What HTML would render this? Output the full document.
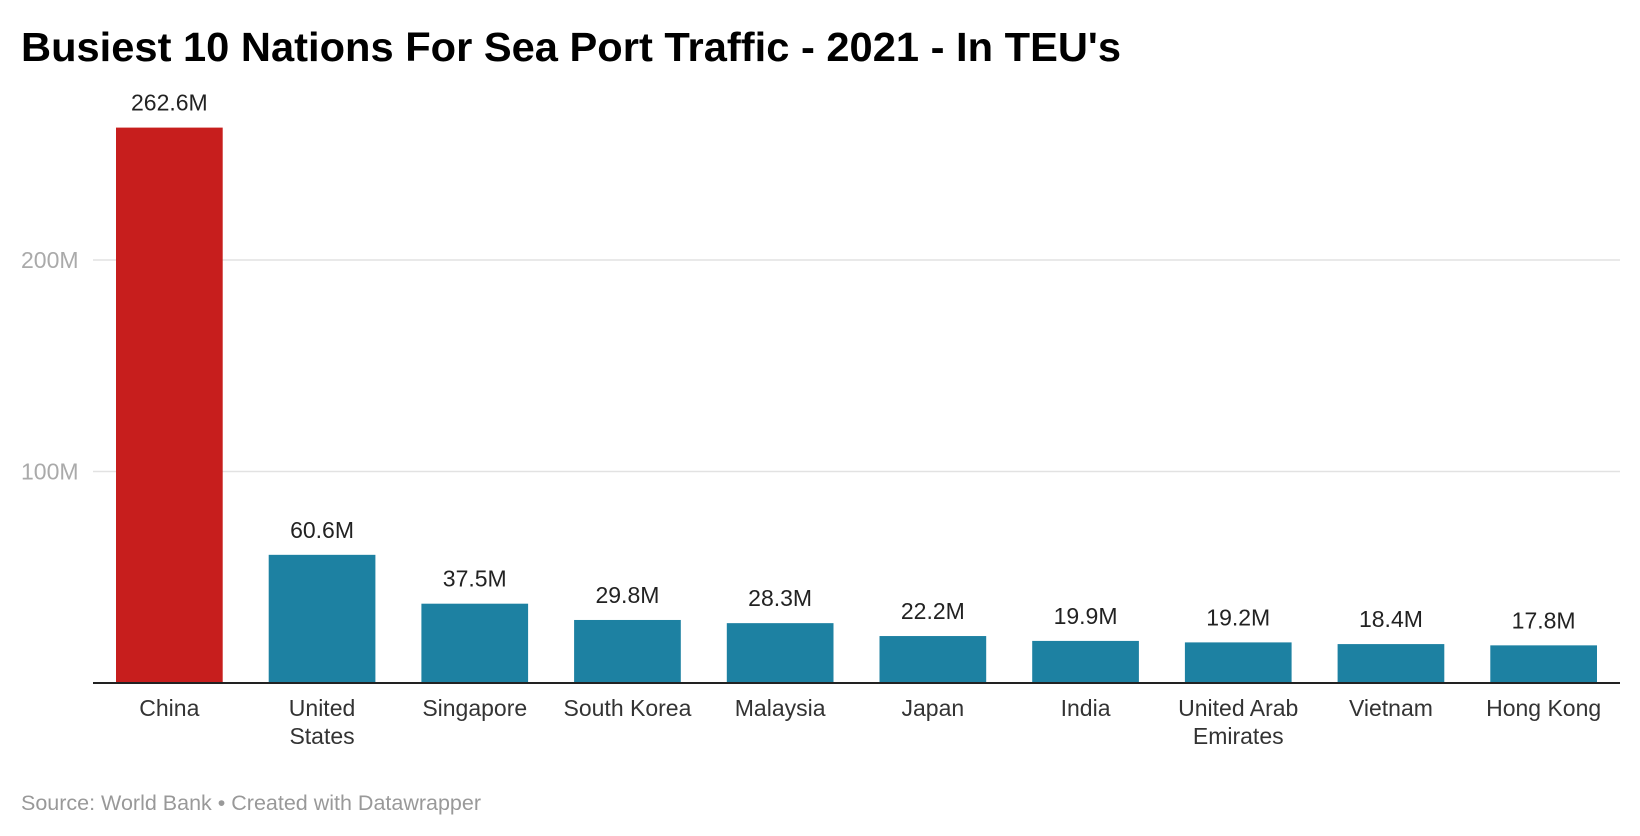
<!DOCTYPE html>
<html><head><meta charset="utf-8"><style>
html,body{margin:0;padding:0;background:#fff;width:1640px;height:836px;overflow:hidden}
svg{display:block;font-family:"Liberation Sans",sans-serif}
</style></head><body>
<svg id="chart" width="1640" height="836">
<text x="21" y="61" font-size="41" font-weight="bold" fill="#000" textLength="1100" lengthAdjust="spacingAndGlyphs">Busiest 10 Nations For Sea Port Traffic - 2021 - In TEU's</text>
<g id="grid"></g><g id="bars"></g>
<line x1="93" x2="1620" y1="683" y2="683" stroke="#222" stroke-width="2"/>
<text x="21" y="810" font-size="21" fill="#999" textLength="460" lengthAdjust="spacingAndGlyphs">Source: World Bank • Created with Datawrapper</text>
</svg>
<script>
const categories=[["China"],["United","States"],["Singapore"],["South Korea"],["Malaysia"],["Japan"],["India"],["United Arab","Emirates"],["Vietnam"],["Hong Kong"]];
const values=[262.6,60.6,37.5,29.8,28.3,22.2,19.9,19.2,18.4,17.8];
const valueLabels=["262.6M","60.6M","37.5M","29.8M","28.3M","22.2M","19.9M","19.2M","18.4M","17.8M"];
const ticks=[100,200];
const tickLabels=["100M","200M"];
const NS="http://www.w3.org/2000/svg";
const y=v=>683-v*2.115;
const x=i=>116+i*152.7;
const bw=106.7;
function mk(t,a,p){const e=document.createElementNS(NS,t);for(const k in a)e.setAttribute(k,a[k]);p.appendChild(e);return e;}
const grid=document.getElementById('grid'),bars=document.getElementById('bars');
ticks.forEach((t,i)=>{
 const l=mk('line',{x1:93,x2:1620,y1:y(t),y2:y(t),stroke:'#e2e2e2','stroke-width':1.5},grid);
 
 
 const tx=mk('text',{x:21,y:y(t)+8,'font-size':23,fill:'#aaa'},grid);
 tx.textContent=tickLabels[i];
 
 
});
values.forEach((v,i)=>{
 const r=mk('rect',{x:x(i),y:y(v),width:bw,height:683-y(v),fill:i===0?'#c71e1d':'#1d81a2'},bars);
 
 
 const cx=x(i)+bw/2;
 const vl=mk('text',{x:cx,y:y(v)-17,'font-size':23,fill:'#222','text-anchor':'middle'},bars);
 vl.textContent=valueLabels[i];
 
 
 categories[i].forEach((s,j)=>{
  const c=mk('text',{x:cx,y:716+j*28,'font-size':23,fill:'#333','text-anchor':'middle'},bars);
  c.textContent=s;
  
  
 });
});
</script>
</body></html>
